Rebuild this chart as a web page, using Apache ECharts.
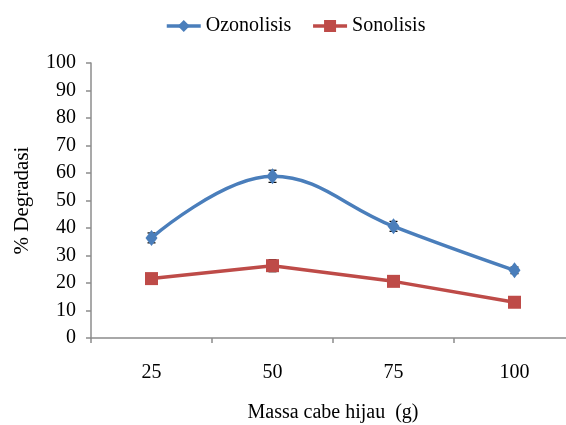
<!DOCTYPE html>
<html>
<head>
<meta charset="utf-8">
<script src="https://cdn.jsdelivr.net/npm/echarts@6/dist/echarts.min.js"></script>
<style>
  html, body { margin: 0; padding: 0; background: #fff; }
  #chart { width: 566px; height: 425px; }
</style>
</head>
<body>
<div id="chart"></div>
<script>
const categories = ['25', '50', '75', '100'];
const ozonolisis = [36.4, 58.8, 40.6, 24.6];
const ozonolisisErr = [1.8, 2.2, 1.8, 1.2];
const sonolisis = [21.6, 26.3, 20.6, 13.0];
const sonolisisErr = [1.0, 2.2, 1.0, 1.0];

const FONT = "'Liberation Serif', 'DejaVu Serif', serif";
const AXIS_GREY = '#8c8c8c';

// small black error bars with caps, drawn over the category positions
function errorSeries(values, errs, z) {
  return {
    type: 'custom',
    z: z,
    silent: true,
    data: values.map((v, i) => [i, v - errs[i], v + errs[i]]),
    renderItem: function (params, api) {
      const lo = api.coord([api.value(0), api.value(1)]);
      const hi = api.coord([api.value(0), api.value(2)]);
      const w = 4;
      const style = { stroke: '#000', lineWidth: 1.2 };
      return {
        type: 'group',
        children: [
          { type: 'line', shape: { x1: lo[0], y1: lo[1], x2: hi[0], y2: hi[1] }, style },
          { type: 'line', shape: { x1: lo[0] - w, y1: lo[1], x2: lo[0] + w, y2: lo[1] }, style },
          { type: 'line', shape: { x1: hi[0] - w, y1: hi[1], x2: hi[0] + w, y2: hi[1] }, style },
        ],
      };
    },
  };
}

const chart = echarts.init(document.getElementById('chart'));

const option = {
  backgroundColor: '#fff',
  animation: false,
  legend: {
    top: 11,
    left: 160,
    itemWidth: 34,
    itemHeight: 15,
    itemGap: 20,
    lineStyle: { width: 3.5 },
    textStyle: { fontFamily: FONT, fontSize: 20, color: '#000' },
    data: ['Ozonolisis', 'Sonolisis'],
  },
  grid: { left: 91, right: -9, top: 63, bottom: 87, outerBoundsMode: 'none' },
  xAxis: {
    type: 'category',
    data: categories,
    boundaryGap: true,
    name: 'Massa cabe hijau  (g)',
    nameLocation: 'middle',
    nameGap: 65,
    nameTextStyle: { fontFamily: FONT, fontSize: 20, color: '#000' },
    axisLine: { lineStyle: { color: AXIS_GREY, width: 1.5 } },
    axisTick: { show: true, length: 5, lineStyle: { color: AXIS_GREY, width: 1.5 } },
    axisLabel: { fontFamily: FONT, fontSize: 20, color: '#000', margin: 25 },
  },
  yAxis: {
    type: 'value',
    min: 0,
    max: 100,
    interval: 10,
    name: '% Degradasi',
    nameLocation: 'middle',
    nameGap: 58,
    nameTextStyle: { fontFamily: FONT, fontSize: 21, color: '#000' },
    splitLine: { show: false },
    axisLine: { show: true, lineStyle: { color: AXIS_GREY, width: 1.5 } },
    axisTick: { show: true, length: 5, lineStyle: { color: AXIS_GREY, width: 1.5 } },
    axisLabel: { fontFamily: FONT, fontSize: 20, color: '#000', margin: 15 },
  },
  series: [
    {
      name: 'Ozonolisis',
      type: 'line',
      data: ozonolisis,
      smooth: 0.4,
      symbol: 'diamond',
      symbolSize: [12, 16],
      z: 3,
      lineStyle: { color: '#4a7ebb', width: 3.5 },
      itemStyle: { color: '#4a7ebb' },
    },
    {
      name: 'Sonolisis',
      type: 'line',
      data: sonolisis,
      symbol: 'rect',
      symbolSize: 13,
      z: 3,
      lineStyle: { color: '#be4b48', width: 3.5 },
      itemStyle: { color: '#be4b48' },
    },
    errorSeries(ozonolisis, ozonolisisErr, 2),
    errorSeries(sonolisis, sonolisisErr, 2),
  ],
};

chart.setOption(option);
</script>
</body>
</html>
